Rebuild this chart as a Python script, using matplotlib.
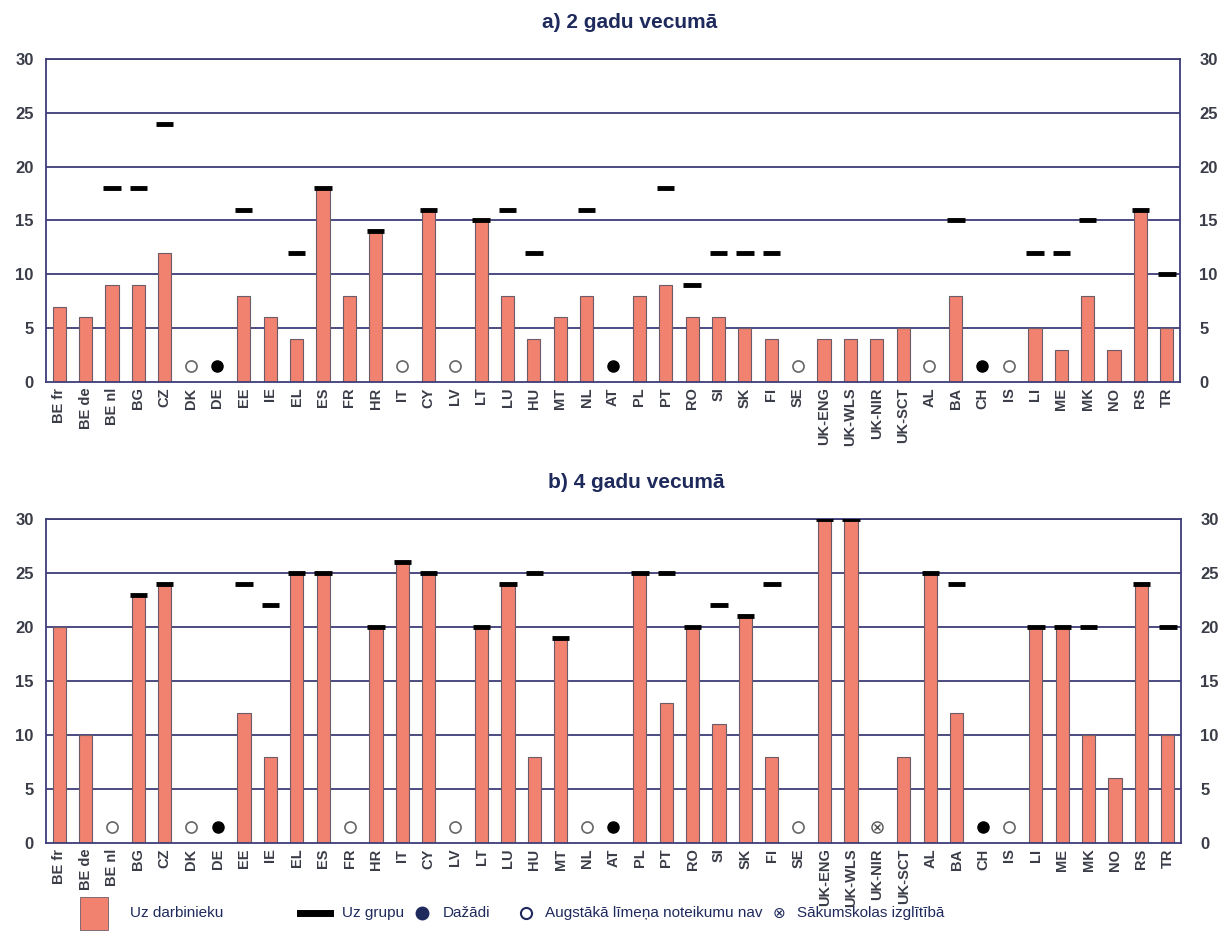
import numpy as np
import matplotlib
matplotlib.use("Agg")
import matplotlib.pyplot as plt
from matplotlib.patches import Rectangle
from matplotlib.lines import Line2D

plt.rcParams['font.family'] = ['Liberation Sans', 'DejaVu Sans']

categories = ["BE fr", "BE de", "BE nl", "BG", "CZ", "DK", "DE", "EE", "IE", "EL", "ES", "FR", "HR", "IT",
              "CY", "LV", "LT", "LU", "HU", "MT", "NL", "AT", "PL", "PT", "RO", "SI", "SK", "FI", "SE",
              "UK-ENG", "UK-WLS", "UK-NIR", "UK-SCT", "AL", "BA", "CH", "IS", "LI", "ME", "MK", "NO", "RS", "TR"]

N = None
# a) 2 years: children per staff member
staff_2 = [7, 6, 9, 9, 12, N, N, 8, 6, 4, 18, 8, 14, N,
           16, N, 15, 8, 4, 6, 8, N, 8, 9, 6, 6, 5, 4, N,
           4, 4, 4, 5, N, 8, N, N, 5, 3, 8, 3, 16, 5]
group_2 = [N, N, 18, 18, 24, N, N, 16, N, 12, 18, N, 14, N,
           16, N, 15, 16, 12, N, 16, N, N, 18, 9, 12, 12, 12, N,
           N, N, N, N, N, 15, N, N, 12, 12, 15, N, 16, 10]
# special codes: 'v' = varies (Dažādi), 'n' = no top-level rules, 'p' = primary education
special_2 = {"DK": "n", "DE": "v", "IT": "n", "LV": "n", "AT": "v", "SE": "n", "AL": "n", "CH": "v", "IS": "n"}

# b) 4 years
staff_4 = [20, 10, N, 23, 24, N, N, 12, 8, 25, 25, N, 20, 26,
           25, N, 20, 24, 8, 19, N, N, 25, 13, 20, 11, 21, 8, N,
           30, 30, N, 8, 25, 12, N, N, 20, 20, 10, 6, 24, 10]
group_4 = [N, N, N, 23, 24, N, N, 24, 22, 25, 25, N, 20, 26,
           25, N, 20, 24, 25, 19, N, N, 25, 25, 20, 22, 21, 24, N,
           30, 30, N, N, 25, 24, N, N, 20, 20, 20, N, 24, 20]
special_4 = {"BE nl": "n", "DK": "n", "DE": "v", "FR": "n", "LV": "n", "NL": "n", "AT": "v", "SE": "n",
             "UK-NIR": "p", "CH": "v", "IS": "n"}

titles = ["a) 2 gadu vecumā", "b) 4 gadu vecumā"]
yticks = [0, 5, 10, 15, 20, 25, 30]

legend_labels = ["Uz darbinieku", "Uz grupu", "Dažādi", "Augstākā līmeņa noteikumu nav", "Sākumskolas izglītībā"]

BAR = "#F0826F"
BAR_EDGE = "#6e5b68"
GRID = "#3d3d78"
NAVY = "#1f2a5c"
TICK = "#3a3d48"

W, H = 1223, 944
fig = plt.figure(figsize=(W / 100, H / 100), dpi=100)

def frac_box(x0, y0_top, x1, y1_top):
    return [x0 / W, 1 - y1_top / H, (x1 - x0) / W, (y1_top - y0_top) / H]

boxes = [frac_box(46, 59, 1180, 382), frac_box(46, 519, 1181, 843)]
title_y = [22, 483]
title_x = [630, 636]

x = np.arange(len(categories))
for k, (staff, group, special) in enumerate([(staff_2, group_2, special_2), (staff_4, group_4, special_4)]):
    ax = fig.add_axes(boxes[k])
    ax.set_xlim(-0.5, len(categories) - 0.5)
    ax.set_ylim(0, 30)
    for yv in yticks[1:]:
        ax.axhline(yv, color=GRID, lw=1.3, zorder=1)
    for i, v in enumerate(staff):
        if v is not None:
            ax.bar(x[i], v, width=0.5, color=BAR, edgecolor=BAR_EDGE, linewidth=0.8, zorder=2)
    for i, g in enumerate(group):
        if g is not None:
            ax.hlines(g, x[i] - 0.33, x[i] + 0.33, color="black", lw=3.5, zorder=3)
    for i, c in enumerate(categories):
        code = special.get(c)
        if code == "n":
            ax.plot(x[i], 1.5, "o", ms=8, mfc="white", mec="#666666", mew=1.2, zorder=3)
        elif code == "v":
            ax.plot(x[i], 1.5, "o", ms=8, mfc="black", mec="black", zorder=3)
        elif code == "p":
            ax.plot(x[i], 1.5, "o", ms=8, mfc="white", mec="#555555", mew=1.0, zorder=3)
            ax.plot(x[i], 1.5, "x", ms=4.5, mec="#555555", mew=1.0, zorder=4)
    ax.set_xticks(x)
    ax.set_xticklabels(categories, rotation=90, fontsize=10.5, fontweight="bold", color=TICK)
    ax.set_yticks(yticks)
    ax.set_yticklabels([str(t) for t in yticks], fontsize=12, fontweight="bold", color=TICK)
    ax.tick_params(axis="both", length=0)
    ax.tick_params(axis="x", pad=4)
    ax.tick_params(axis="y", pad=9)
    for s in ax.spines.values():
        s.set_color(GRID)
        s.set_linewidth(1.3)
    ax2 = ax.twinx()
    ax2.set_ylim(0, 30)
    ax2.set_yticks(yticks)
    ax2.set_yticklabels([str(t) for t in yticks], fontsize=12, fontweight="bold", color=TICK)
    ax2.tick_params(axis="y", length=0, pad=14)
    for s in ax2.spines.values():
        s.set_visible(False)
    fig.text(title_x[k] / W, 1 - title_y[k] / H, titles[k], ha="center", va="center",
             fontsize=15, fontweight="bold", color=NAVY)

# legend (manual, figure pixel coordinates)
ly = 1 - 913 / H
LFS = 11
fig.patches.append(Rectangle((80 / W, 1 - 930 / H), 28 / W, 33 / H, transform=fig.transFigure,
                             facecolor=BAR, edgecolor=BAR_EDGE, lw=0.6))
fig.text(130 / W, ly, legend_labels[0], ha="left", va="center", fontsize=LFS, color=NAVY)
fig.lines.append(Line2D([300 / W, 330 / W], [ly, ly], transform=fig.transFigure, color="black", lw=5))
fig.text(342 / W, ly, legend_labels[1], ha="left", va="center", fontsize=LFS, color=NAVY)
fig.lines.append(Line2D([422 / W], [ly], transform=fig.transFigure, marker="o", ms=9,
                        mfc=NAVY, mec=NAVY, ls="none"))
fig.text(443 / W, ly, legend_labels[2], ha="left", va="center", fontsize=LFS, color=NAVY)
fig.lines.append(Line2D([526 / W], [ly], transform=fig.transFigure, marker="o", ms=8,
                        mfc="white", mec=NAVY, mew=1.5, ls="none"))
fig.text(545 / W, ly, legend_labels[3], ha="left", va="center", fontsize=LFS, color=NAVY)
fig.text(779 / W, ly, "⊗", ha="center", va="center", fontsize=11, color=NAVY, family=["DejaVu Sans"])
fig.text(797 / W, ly, legend_labels[4], ha="left", va="center", fontsize=LFS, color=NAVY)

fig.savefig("out.png", dpi=100)
